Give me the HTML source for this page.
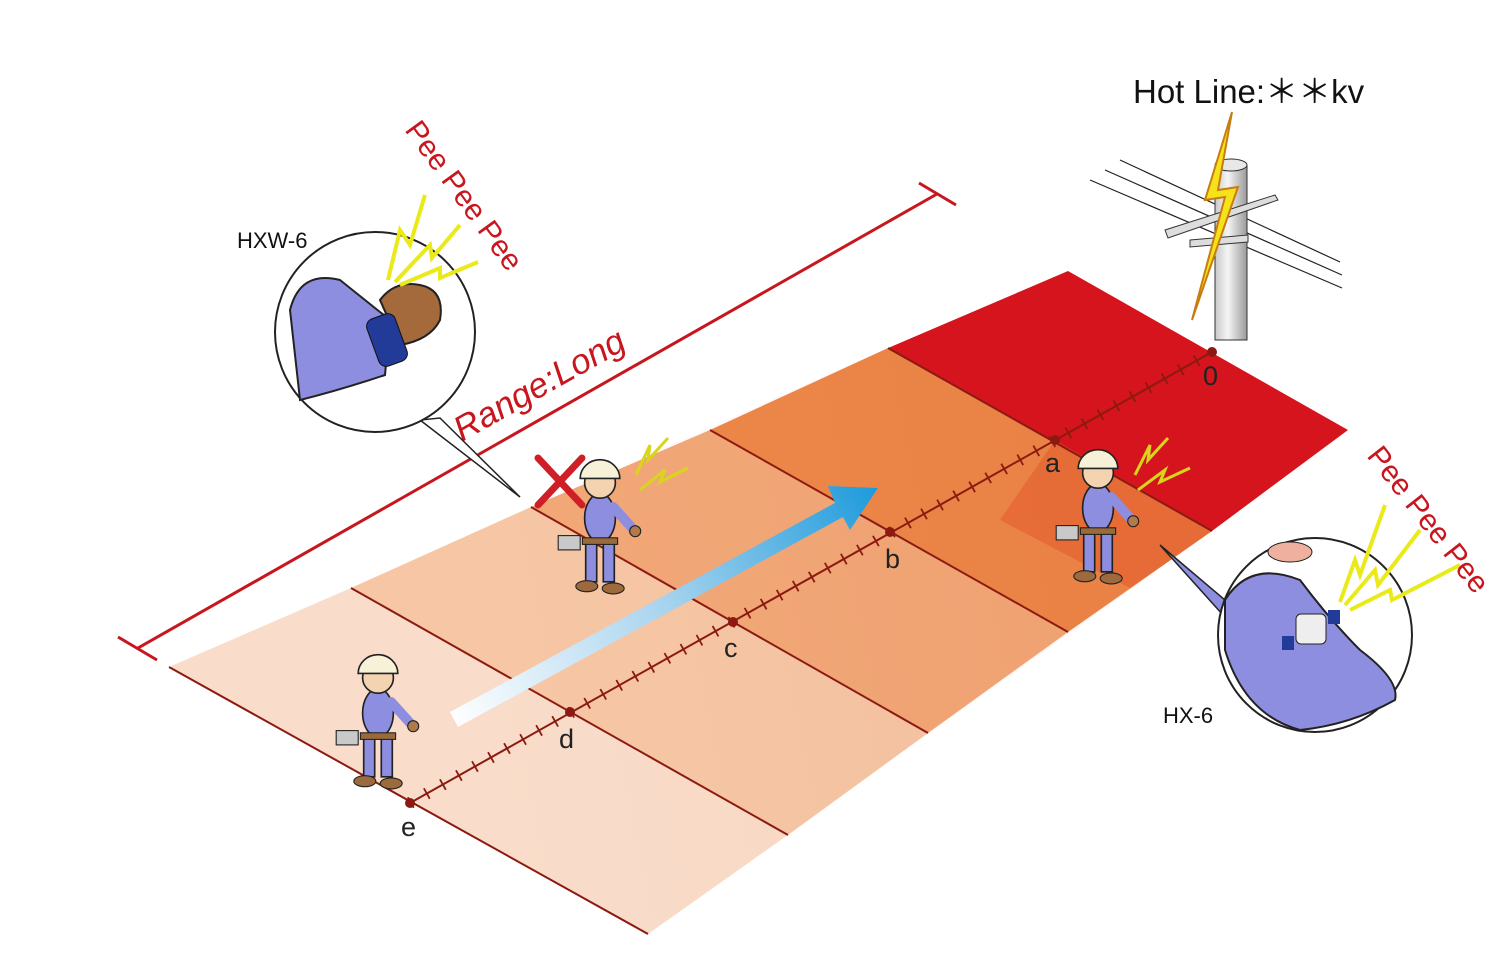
<!DOCTYPE html>
<html><head><meta charset="utf-8"><style>
html,body{margin:0;padding:0;background:#fff;}
svg{display:block;}
text{font-family:"Liberation Sans",sans-serif;}
</style></head><body>
<svg width="1511" height="968" viewBox="0 0 1511 968" xmlns="http://www.w3.org/2000/svg">
<defs>
<linearGradient id="arr" x1="450" y1="720" x2="875" y2="490" gradientUnits="userSpaceOnUse">
<stop offset="0" stop-color="#ffffff"/><stop offset="0.5" stop-color="#a9d4ee"/><stop offset="1" stop-color="#1f9bdc"/></linearGradient>
<linearGradient id="pole" x1="0" x2="1"><stop offset="0" stop-color="#c8c8c8"/><stop offset="0.4" stop-color="#f5f5f5"/><stop offset="1" stop-color="#9a9a9a"/></linearGradient>
<linearGradient id="shade" x1="169" y1="667" x2="1348" y2="430" gradientUnits="userSpaceOnUse">
<stop offset="0" stop-color="#ffffff" stop-opacity="0"/><stop offset="1" stop-color="#c04010" stop-opacity="0.12"/></linearGradient>
<g id="worker">
<ellipse cx="0" cy="-20" rx="14" ry="22" fill="#8d8ee0" stroke="#222" stroke-width="1.5"/>
<rect x="-13" y="0" width="10" height="38" fill="#8d8ee0" stroke="#222" stroke-width="1.5"/>
<rect x="3" y="0" width="10" height="38" fill="#8d8ee0" stroke="#222" stroke-width="1.5"/>
<rect x="-16" y="-2" width="32" height="6" fill="#9a6a3a" stroke="#222"/>
<ellipse cx="-12" cy="42" rx="10" ry="5" fill="#9c6a3d" stroke="#222"/>
<ellipse cx="12" cy="44" rx="10" ry="5" fill="#9c6a3d" stroke="#222"/>
<circle cx="0" cy="-52" r="14" fill="#f3d3b0" stroke="#222" stroke-width="1.5"/>
<path d="M-18 -56 A18 17 0 0 1 18 -56 Z" fill="#f7f1d8" stroke="#222" stroke-width="1.5"/>
<rect x="-38" y="-4" width="20" height="13" fill="#c9c9c9" stroke="#222"/>
<path d="M12 -30 L30 -10" stroke="#8d8ee0" stroke-width="9" stroke-linecap="round"/>
<circle cx="32" cy="-8" r="5" fill="#b07a4a" stroke="#222"/>
</g>
</defs>

<polygon points="169,667 351,588 788,835 648,934" fill="#f9dcc9"/>
<polygon points="351,588 531,507 928,733 788,835" fill="#f6c6a4"/>
<polygon points="531,507 710,430 1068,632 928,733" fill="#f2a675"/>
<polygon points="710,430 888,348 1212,531 1068,632" fill="#ec8444"/>
<polygon points="888,348 1068,271 1348,430 1212,531" fill="#d5141d"/>
<polygon points="169,667 888,348 1212,531 648,934" fill="url(#shade)"/>
<polygon points="1055,440 1212,531 1130,588 1000,520" fill="#e4552a" opacity="0.5"/>
<g stroke="#8c1a10" stroke-width="2" fill="none">
<line x1="169" y1="667" x2="648" y2="934"/>
<line x1="351" y1="588" x2="788" y2="835"/>
<line x1="531" y1="507" x2="928" y2="733"/>
<line x1="710" y1="430" x2="1068" y2="632"/>
<line x1="888" y1="348" x2="1212" y2="531"/>
</g>
<line x1="410" y1="803" x2="1212" y2="352" stroke="#8c1a10" stroke-width="2"/>
<line x1="410" y1="803" x2="1212" y2="352" stroke="#8c1a10" stroke-width="12" stroke-dasharray="1.8 16.6"/>
<g fill="#8c1a10"><circle cx="410" cy="803" r="5"/><circle cx="570" cy="712" r="5"/><circle cx="733" cy="622" r="5"/><circle cx="890" cy="532" r="5"/><circle cx="1055" cy="440" r="5"/><circle cx="1212" cy="352" r="5"/></g>
<g font-size="27" fill="#222">
<text x="401" y="836">e</text><text x="559" y="748">d</text><text x="724" y="657">c</text><text x="885" y="568">b</text><text x="1045" y="472">a</text><text x="1203" y="385">0</text>
</g>

<g stroke="#c8161e" stroke-width="3">
<line x1="138" y1="648" x2="937" y2="194"/>
<line x1="118" y1="637" x2="157" y2="660"/>
<line x1="919" y1="183" x2="956" y2="205"/>
</g>
<text x="0" y="0" font-size="35" font-style="italic" fill="#c8161e" transform="translate(462,442) rotate(-29.5)">Range:Long</text>

<polygon points="450,712 835,503 828,486 878,488 850,530 843,517 458,727" fill="url(#arr)"/>

<g stroke="#222" stroke-width="1.2" fill="none">
<line x1="1090" y1="180" x2="1342" y2="288"/>
<line x1="1105" y1="170" x2="1342" y2="275"/>
<line x1="1120" y1="160" x2="1340" y2="262"/>
</g>
<rect x="1215" y="165" width="32" height="175" fill="url(#pole)" stroke="#333"/>
<ellipse cx="1231" cy="165" rx="16" ry="6" fill="#e8e8e8" stroke="#333"/>
<polygon points="1165,230 1275,195 1278,200 1168,238" fill="#ddd" stroke="#333"/>
<polygon points="1190,240 1248,235 1248,242 1190,247" fill="#ddd" stroke="#333"/>
<polygon points="1232,112 1205,200 1225,197 1192,320 1238,187 1218,190" fill="#f5e21a" stroke="#c77d10" stroke-width="2"/>
<text x="1133" y="103" font-size="33" fill="#111">Hot Line:＊＊kv</text>

<g transform="translate(378,735) scale(1.1)"><use href="#worker"/></g>
<g transform="translate(600,540) scale(1.1)"><use href="#worker"/></g>
<g transform="translate(1098,530) scale(1.1)"><use href="#worker"/></g>
<g stroke="#d8d51a" stroke-width="3" fill="none">
<path d="M636 475 L650 445 L648 460 L668 438"/><path d="M640 490 L665 470 L660 482 L688 468"/>
<path d="M1135 475 L1150 445 L1148 460 L1168 438"/><path d="M1138 490 L1165 470 L1160 482 L1190 468"/>
</g>
<g stroke="#d01e26" stroke-width="7" stroke-linecap="round"><line x1="538" y1="458" x2="582" y2="505"/><line x1="582" y1="458" x2="538" y2="505"/></g>

<polygon points="420,420 520,497 440,418" fill="#fff" stroke="#222" stroke-width="1.5"/>
<circle cx="375" cy="332" r="100" fill="#fff" stroke="#222" stroke-width="2"/>
<path d="M290 310 Q300 270 340 280 L390 320 L385 375 Q340 390 300 400 Z" fill="#8d8ee0" stroke="#222" stroke-width="2"/>
<path d="M380 300 Q395 280 420 285 Q445 290 440 320 Q430 340 400 345 Z" fill="#a56a3c" stroke="#222" stroke-width="2"/>
<rect x="372" y="315" width="30" height="50" rx="8" fill="#223b99" stroke="#111" transform="rotate(-20 387 340)"/>
<text x="237" y="248" font-size="22" fill="#111">HXW-6</text>
<g stroke="#eaea1a" stroke-width="4" fill="none">
<path d="M388 280 L400 230 L410 245 L425 195"/><path d="M395 282 L430 245 L432 258 L460 225"/><path d="M400 285 L440 268 L440 278 L478 262"/>
</g>
<text font-size="30" fill="#c8161e" transform="translate(404,130) rotate(54)">Pee Pee Pee</text>

<polygon points="1160,545 1225,600 1232,625" fill="#8d8ee0" stroke="#222" stroke-width="1.5"/>
<circle cx="1315" cy="635" r="97" fill="#fff" stroke="#222" stroke-width="2"/>
<path d="M1225 600 Q1250 560 1300 580 Q1330 620 1360 650 Q1400 680 1395 700 Q1350 725 1300 730 Q1245 715 1225 650 Z" fill="#8d8ee0" stroke="#222" stroke-width="2"/>
<ellipse cx="1290" cy="552" rx="22" ry="10" fill="#f0b0a0" stroke="#222"/>
<rect x="1296" y="614" width="30" height="30" rx="5" fill="#eee" stroke="#222"/>
<rect x="1282" y="636" width="12" height="14" fill="#223b99"/><rect x="1328" y="610" width="12" height="14" fill="#223b99"/>
<text x="1163" y="723" font-size="22" fill="#111">HX-6</text>
<g stroke="#eaea1a" stroke-width="4" fill="none">
<path d="M1340 602 L1355 560 L1360 575 L1385 505"/><path d="M1345 605 L1375 570 L1378 585 L1420 530"/><path d="M1350 610 L1390 590 L1392 600 L1460 565"/>
</g>
<text font-size="30" fill="#c8161e" transform="translate(1366,456) rotate(52)">Pee Pee Pee</text>
</svg>
</body></html>
